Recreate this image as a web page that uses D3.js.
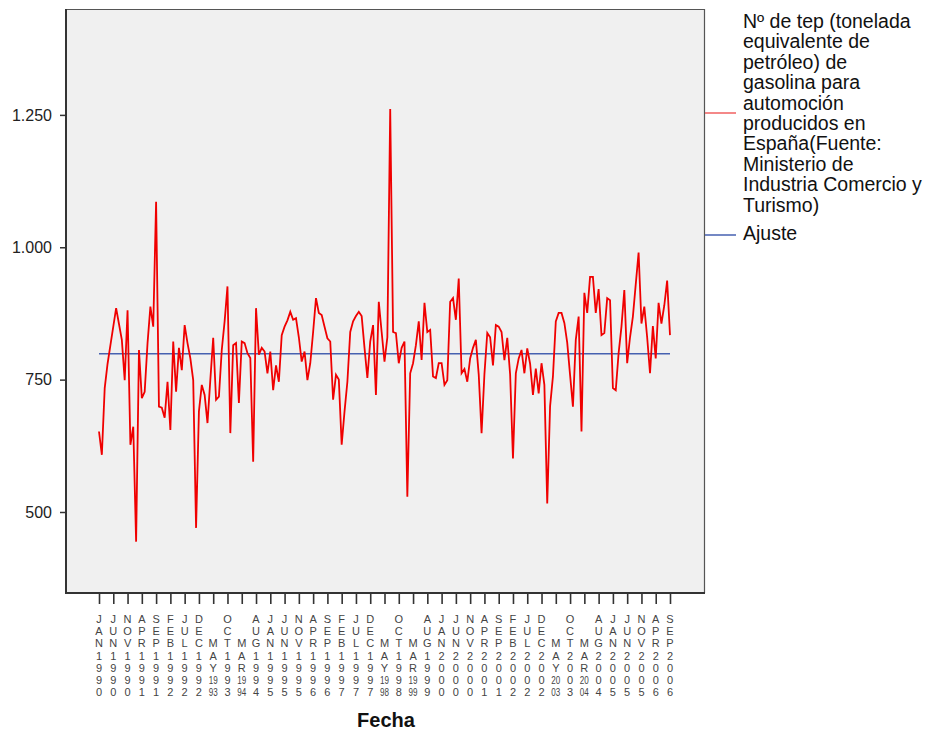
<!DOCTYPE html>
<html>
<head>
<meta charset="utf-8">
<script src="https://cdn.jsdelivr.net/npm/d3@7"></script>
<style>
  html, body { margin: 0; padding: 0; background: #fff; }
  text { font-family: "Liberation Sans", Arial, sans-serif; }
</style>
</head>
<body>
<svg id="chart" width="925" height="731"></svg>
<script>
// ---- data ----
const startMonth = new Date(1990, 0, 1);
const endMonth = new Date(2006, 8, 1);
const months = d3.timeMonth.range(startMonth, d3.timeMonth.offset(endMonth, 1));

const gasolina = [
  652, 608, 734, 780, 815, 850, 885, 855, 825, 749, 881, 627,
  661, 444, 806, 715, 727, 819, 888, 850, 1086, 699, 697, 678,
  746, 655, 822, 727, 810, 768, 853, 819, 790, 749, 470, 690,
  740, 721, 668, 750, 829, 712, 718, 806, 860, 926, 649, 815,
  819, 706, 822, 819, 800, 791, 595, 885, 797, 810, 803, 762,
  803, 730, 777, 746, 834, 850, 862, 878, 863, 866, 830, 784,
  803, 749, 781, 840, 904, 876, 872, 850, 828, 822, 712, 759,
  750, 627, 690, 746, 840, 860, 870, 878, 870, 810, 753, 822,
  853, 721, 897, 840, 784, 830, 1261, 840, 838, 781, 810, 822,
  529, 762, 781, 815, 860, 787, 895, 840, 844, 756, 753, 781,
  781, 740, 749, 897, 904, 863, 941, 762, 770, 746, 790, 810,
  825, 760, 649, 760, 838, 830, 777, 853, 850, 840, 787, 829,
  760, 601, 762, 790, 806, 762, 809, 780, 721, 771, 724, 781,
  740, 516, 700, 756, 860, 876, 876, 857, 820, 759, 699, 825,
  869, 652, 914, 876, 944, 944, 876, 921, 834, 838, 904, 900,
  734, 730, 800, 850, 919, 781, 830, 869, 930, 990, 856, 888,
  830, 762, 851, 790, 895, 856, 890, 937, 834
];
const ajusteValue = 799;
const ajuste = months.map(() => ajusteValue);

const yTicks = [500, 750, 1000, 1250];
const tickLabels = [
  "JAN 1990","JUN 1990","NOV 1990","APR 1991","SEP 1991","FEB 1992","JUL 1992","DEC 1992",
  "MAY 1993","OCT 1993","MAR 1994","AUG 1994","JAN 1995","JUN 1995","NOV 1995","APR 1996",
  "SEP 1996","FEB 1997","JUL 1997","DEC 1997","MAY 1998","OCT 1998","MAR 1999","AUG 1999",
  "JAN 2000","JUN 2000","NOV 2000","APR 2001","SEP 2001","FEB 2002","JUL 2002","DEC 2002",
  "MAY 2003","OCT 2003","MAR 2004","AUG 2004","JAN 2005","JUN 2005","NOV 2005","APR 2006","SEP 2006"
];
const compactMonths = ["MAY", "MAR"];
const legendSeries = [
  "Nº de tep (tonelada", "equivalente de", "petróleo) de", "gasolina para", "automoción",
  "producidos en", "España(Fuente:", "Ministerio de", "Industria Comercio y", "Turismo)"
];
const legendFit = "Ajuste";
const xTitle = "Fecha";

// ---- layout ----
const svg = d3.select("#chart");
const plot = { left: 66, top: 9, right: 705, bottom: 593 };

const x = d3.scaleLinear().domain([0, months.length - 1]).range([99, 670]);
const y = d3.scaleLinear().domain([347, 1450]).range([plot.bottom, plot.top]);

// background
svg.append("rect").attr("x", 0).attr("y", 0).attr("width", 925).attr("height", 731).attr("fill", "#fff");
svg.append("rect")
  .attr("x", plot.left).attr("y", plot.top)
  .attr("width", plot.right - plot.left).attr("height", plot.bottom - plot.top)
  .attr("fill", "#f0f0f0");
// top and right border
svg.append("path")
  .attr("d", `M${plot.left},${plot.top + 0.5}H${plot.right - 0.5}V${plot.bottom}`)
  .attr("fill", "none").attr("stroke", "#555").attr("stroke-width", 1.2);

// lines
const line = d3.line().x((d, i) => x(i)).y(d => y(d));
svg.append("path").datum(ajuste)
  .attr("d", line).attr("fill", "none").attr("stroke", "#4661b0").attr("stroke-width", 1.6);
svg.append("path").datum(gasolina)
  .attr("d", line).attr("fill", "none").attr("stroke", "#f00000").attr("stroke-width", 1.8)
  .attr("stroke-linejoin", "miter");

// y axis
const fmt = d3.formatLocale({ decimal: ",", thousands: ".", grouping: [3], currency: ["", "€"] }).format(",");
const yAxis = svg.append("g").attr("transform", `translate(${plot.left},0)`)
  .call(d3.axisLeft(y).tickValues(yTicks).tickSize(6).tickPadding(8).tickFormat(fmt));
yAxis.select(".domain").remove();
yAxis.selectAll(".tick line").attr("stroke", "#333").attr("stroke-width", 1.5);
yAxis.selectAll(".tick text").attr("font-size", "16px").attr("fill", "#222")
  .attr("font-family", "'Liberation Sans', Arial, sans-serif");

// x axis
const tickIdx = tickLabels.map((_, k) => k * 5);
const xAxis = svg.append("g").attr("transform", `translate(0,${plot.bottom})`)
  .call(d3.axisBottom(x).tickValues(tickIdx).tickSize(11).tickFormat(() => ""));
xAxis.select(".domain").remove();
xAxis.selectAll(".tick line").attr("stroke", "#333").attr("stroke-width", 1.6);

// axis lines (left & bottom)
svg.append("path")
  .attr("d", `M${plot.left},${plot.top}V${plot.bottom}H${plot.right}`)
  .attr("fill", "none").attr("stroke", "#333").attr("stroke-width", 2);

// stacked tick labels
const rowY0 = 619, rowStep = 12.2;
tickLabels.forEach((lab, k) => {
  const [mon, yr] = lab.split(" ");
  let rows;
  if (compactMonths.includes(mon)) {
    rows = ["", "", mon[0], mon[1], mon[2], yr.slice(0, 2), yr.slice(2)];
  } else {
    rows = [...mon, ...yr];
  }
  const cx = x(tickIdx[k]);
  rows.forEach((ch, r) => {
    if (!ch) return;
    const t = svg.append("text")
      .attr("x", cx).attr("y", rowY0 + r * rowStep)
      .attr("text-anchor", "middle").attr("dominant-baseline", "central")
      .attr("font-size", "11px").attr("fill", "#444")
      .text(ch);
    if (ch.length > 1) t.attr("textLength", 9).attr("lengthAdjust", "spacingAndGlyphs");
  });
});

// x title
svg.append("text")
  .attr("x", 386).attr("y", 727)
  .attr("text-anchor", "middle").attr("font-weight", "bold")
  .attr("font-size", "20px").attr("fill", "#111")
  .text(xTitle);

// legend
const lg = svg.append("g");
lg.append("line").attr("x1", 705).attr("x2", 736).attr("y1", 113).attr("y2", 113)
  .attr("stroke", "#f06060").attr("stroke-width", 1.5);
lg.append("line").attr("x1", 705).attr("x2", 736).attr("y1", 235).attr("y2", 235)
  .attr("stroke", "#4661b0").attr("stroke-width", 1.5);
legendSeries.forEach((s, i) => {
  lg.append("text").attr("x", 743).attr("y", 28 + i * 20.4)
    .attr("font-size", "19.5px").attr("fill", "#111").text(s);
});
lg.append("text").attr("x", 743).attr("y", 240)
  .attr("font-size", "19.5px").attr("fill", "#111").text(legendFit);
</script>
</body>
</html>
